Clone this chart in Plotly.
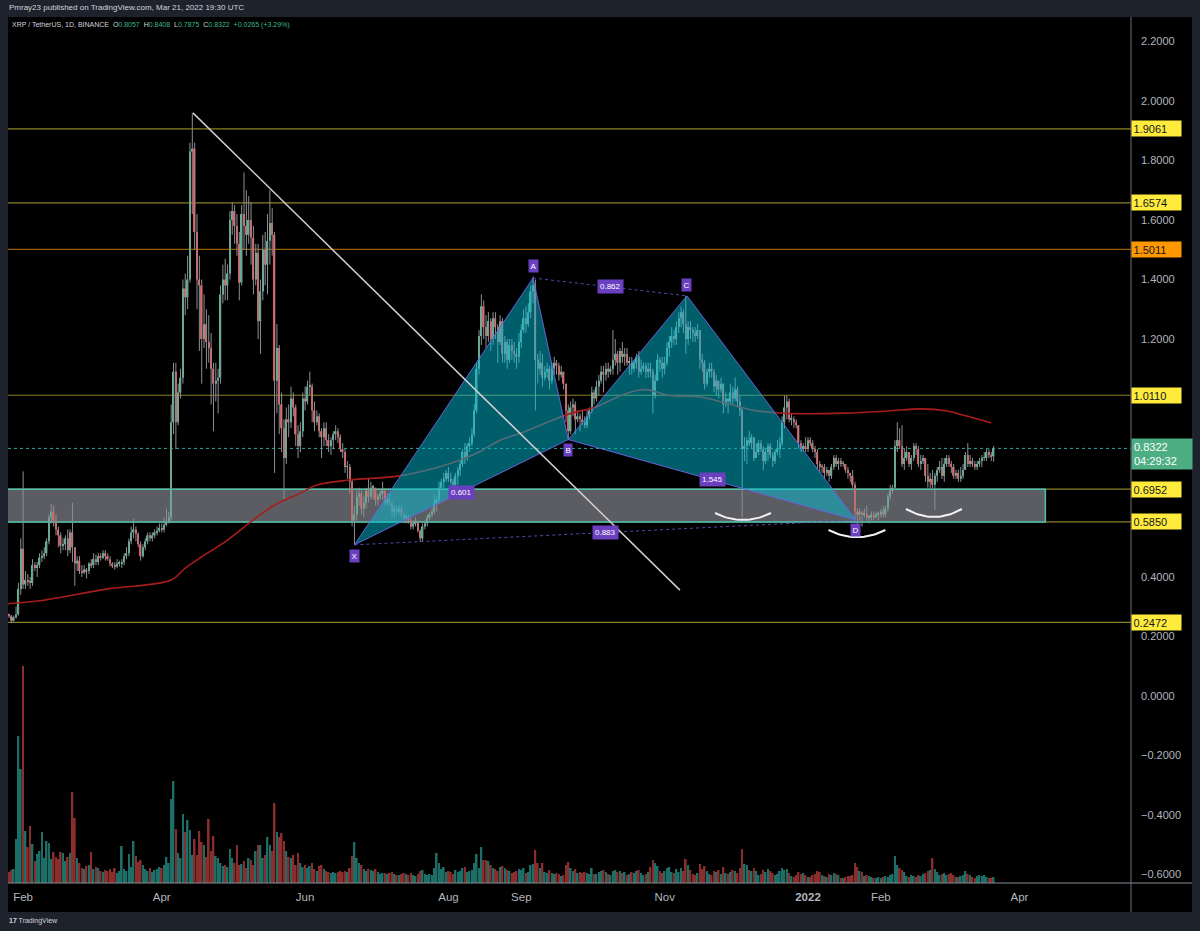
import plotly.graph_objects as go
import pandas as pd
import numpy as np

# ---------------- DATA ----------------
START = "2021-01-25"
FIRST_OPEN = 0.270

CLOSE = [
    0.272,0.270,0.253,0.265,0.275,0.360,0.495,
    0.375,0.390,0.385,0.380,0.440,0.430,0.440,
    0.465,0.470,0.480,0.520,0.600,0.620,0.590,
    0.560,0.540,0.505,0.510,0.530,0.490,0.550,
    0.500,0.445,0.455,0.420,0.415,0.425,0.420,
    0.445,0.440,0.460,0.450,0.470,0.465,0.480,
    0.470,0.460,0.445,0.440,0.435,0.445,0.445,
    0.450,0.470,0.480,0.520,0.550,0.560,0.545,
    0.510,0.470,0.500,0.520,0.540,0.530,0.540,
    0.550,0.555,0.565,0.560,0.575,0.585,0.600,
    0.920,1.090,0.920,1.020,1.070,1.370,1.340,
    1.400,1.830,1.840,1.560,1.400,1.380,1.200,
    1.250,1.190,1.170,1.100,1.050,1.060,1.070,
    1.350,1.400,1.380,1.420,1.600,1.630,1.580,
    1.520,1.390,1.620,1.580,1.550,1.600,1.540,
    1.400,1.490,1.260,1.360,1.500,1.450,1.530,
    1.590,1.550,1.060,1.170,0.980,0.900,0.800,
    0.930,0.920,1.000,0.970,0.880,0.840,0.890,
    1.000,0.990,1.040,1.040,0.960,0.920,0.940,
    0.890,0.870,0.900,0.860,0.840,0.860,0.880,
    0.890,0.870,0.830,0.820,0.770,0.770,0.720,
    0.590,0.610,0.670,0.680,0.630,0.650,0.690,
    0.670,0.700,0.700,0.660,0.670,0.680,0.690,
    0.650,0.660,0.650,0.620,0.630,0.620,0.630,
    0.610,0.600,0.600,0.590,0.570,0.580,0.585,
    0.555,0.530,0.570,0.580,0.600,0.610,0.620,
    0.650,0.660,0.700,0.720,0.730,0.750,0.730,
    0.720,0.710,0.740,0.760,0.780,0.820,0.800,
    0.840,0.850,0.880,0.960,1.100,1.210,1.310,
    1.240,1.210,1.260,1.200,1.270,1.240,1.190,
    1.260,1.150,1.190,1.130,1.180,1.160,1.150,
    1.140,1.190,1.230,1.270,1.250,1.290,1.360,
    1.380,1.130,1.100,1.120,1.070,1.090,1.100,
    1.060,1.100,1.120,1.110,1.080,1.090,1.050,
    0.960,0.890,0.970,0.980,0.930,0.940,0.930,
    0.920,0.910,0.940,0.960,1.020,1.000,1.040,
    1.060,1.090,1.080,1.100,1.090,1.100,1.130,
    1.150,1.120,1.160,1.140,1.150,1.120,1.120,
    1.100,1.120,1.140,1.090,1.100,1.110,1.090,
    1.100,1.090,1.010,1.060,1.130,1.120,1.100,
    1.120,1.170,1.190,1.210,1.200,1.240,1.270,
    1.290,1.250,1.200,1.240,1.230,1.220,1.210,
    1.230,1.130,1.120,1.050,1.090,1.100,1.090,
    1.040,1.060,1.030,1.050,0.980,1.000,0.990,
    1.020,1.000,1.030,0.990,0.960,0.830,0.840,
    0.860,0.850,0.870,0.800,0.820,0.850,0.830,
    0.790,0.820,0.840,0.810,0.790,0.820,0.830,
    0.850,0.920,0.970,0.990,0.930,0.930,0.920,
    0.910,0.850,0.830,0.840,0.830,0.860,0.850,
    0.830,0.820,0.780,0.770,0.770,0.750,0.760,
    0.740,0.770,0.800,0.780,0.790,0.780,0.780,
    0.760,0.750,0.740,0.710,0.620,0.610,0.620,
    0.610,0.610,0.600,0.600,0.610,0.600,0.610,
    0.610,0.620,0.610,0.630,0.670,0.690,0.700,
    0.840,0.860,0.840,0.780,0.800,0.820,0.780,
    0.800,0.840,0.830,0.780,0.790,0.800,0.740,
    0.720,0.730,0.710,0.740,0.760,0.770,0.740,
    0.780,0.800,0.780,0.770,0.740,0.750,0.730,
    0.740,0.760,0.810,0.780,0.790,0.780,0.770,
    0.780,0.790,0.800,0.800,0.820,0.810,0.8057,
    0.8322,
]

HIGH = [
    0.285,0.277,0.272,0.270,0.300,0.380,0.530,
    0.755,0.420,0.410,0.400,0.460,0.450,0.450,
    0.480,0.490,0.500,0.530,0.610,0.645,0.640,
    0.610,0.570,0.550,0.530,0.540,0.560,0.560,
    0.650,0.500,0.470,0.470,0.440,0.440,0.430,
    0.450,0.460,0.480,0.475,0.480,0.480,0.490,
    0.490,0.480,0.470,0.450,0.450,0.460,0.455,
    0.460,0.480,0.500,0.530,0.570,0.595,0.570,
    0.550,0.520,0.510,0.530,0.550,0.550,0.550,
    0.560,0.570,0.580,0.580,0.600,0.630,0.620,
    0.980,1.120,1.120,1.050,1.100,1.400,1.420,
    1.480,1.860,1.960,1.860,1.620,1.480,1.400,
    1.350,1.300,1.280,1.220,1.120,1.120,1.100,
    1.380,1.450,1.470,1.450,1.630,1.660,1.650,
    1.620,1.560,1.650,1.760,1.700,1.680,1.660,
    1.580,1.520,1.520,1.400,1.550,1.560,1.620,
    1.700,1.640,1.560,1.250,1.180,1.020,0.930,
    0.970,0.980,1.040,1.020,0.980,0.910,0.920,
    1.020,1.040,1.060,1.090,1.050,0.990,0.960,
    0.950,0.900,0.920,0.920,0.880,0.870,0.890,
    0.910,0.900,0.880,0.850,0.830,0.790,0.780,
    0.730,0.640,0.690,0.700,0.690,0.670,0.700,
    0.730,0.720,0.710,0.700,0.680,0.690,0.720,
    0.690,0.680,0.680,0.650,0.640,0.640,0.640,
    0.640,0.620,0.610,0.610,0.600,0.590,0.600,
    0.590,0.560,0.580,0.590,0.610,0.620,0.630,
    0.680,0.670,0.720,0.730,0.750,0.760,0.770,
    0.750,0.730,0.750,0.770,0.790,0.830,0.850,
    0.850,0.870,0.900,0.980,1.120,1.230,1.350,
    1.330,1.280,1.290,1.270,1.290,1.290,1.250,
    1.280,1.270,1.210,1.200,1.200,1.200,1.190,
    1.170,1.220,1.250,1.300,1.310,1.320,1.380,
    1.410,1.400,1.150,1.160,1.150,1.110,1.120,
    1.110,1.120,1.140,1.130,1.120,1.110,1.090,
    1.050,0.980,0.990,1.000,0.990,0.960,0.950,
    0.960,0.940,0.960,0.970,1.040,1.030,1.060,
    1.080,1.110,1.110,1.120,1.120,1.110,1.230,
    1.200,1.160,1.170,1.190,1.170,1.170,1.140,
    1.140,1.130,1.150,1.160,1.130,1.120,1.120,
    1.120,1.120,1.100,1.080,1.150,1.140,1.140,
    1.140,1.190,1.210,1.240,1.230,1.260,1.290,
    1.310,1.300,1.345,1.260,1.260,1.240,1.240,
    1.250,1.230,1.150,1.130,1.100,1.120,1.120,
    1.100,1.080,1.060,1.070,1.050,1.020,1.000,
    1.050,1.040,1.070,1.040,1.010,0.970,0.870,
    0.870,0.890,0.880,0.870,0.850,0.860,0.860,
    0.840,0.830,0.850,0.850,0.820,0.830,0.860,
    0.870,0.940,1.010,1.010,1.000,0.950,0.940,
    0.930,0.910,0.860,0.850,0.870,0.870,0.870,
    0.860,0.840,0.830,0.790,0.780,0.780,0.770,
    0.760,0.780,0.810,0.810,0.800,0.800,0.790,
    0.780,0.770,0.750,0.760,0.720,0.630,0.630,
    0.620,0.630,0.640,0.610,0.620,0.620,0.620,
    0.620,0.630,0.640,0.640,0.680,0.710,0.710,
    0.860,0.920,0.900,0.910,0.830,0.840,0.820,
    0.810,0.850,0.850,0.840,0.810,0.810,0.800,
    0.780,0.750,0.760,0.750,0.770,0.790,0.800,
    0.800,0.810,0.810,0.790,0.780,0.760,0.760,
    0.770,0.780,0.820,0.850,0.810,0.800,0.790,
    0.790,0.800,0.810,0.820,0.830,0.830,0.820,
    0.8408,
]

LOW = [
    0.265,0.262,0.245,0.250,0.260,0.270,0.340,
    0.360,0.360,0.370,0.360,0.370,0.420,0.400,
    0.430,0.450,0.460,0.470,0.510,0.580,0.570,
    0.540,0.500,0.480,0.490,0.490,0.470,0.480,
    0.450,0.370,0.420,0.410,0.400,0.410,0.395,
    0.410,0.430,0.430,0.440,0.440,0.455,0.460,
    0.455,0.455,0.435,0.430,0.425,0.430,0.435,
    0.430,0.440,0.460,0.470,0.510,0.530,0.520,
    0.500,0.455,0.465,0.490,0.510,0.520,0.520,
    0.530,0.540,0.550,0.550,0.550,0.570,0.580,
    0.590,0.880,0.830,0.910,1.000,1.050,1.280,
    1.300,1.390,1.620,1.500,1.300,1.160,1.050,
    1.170,1.100,1.120,0.980,0.890,0.990,0.950,
    1.050,1.320,1.330,1.330,1.400,1.550,1.520,
    1.480,1.330,1.380,1.500,1.480,1.520,1.450,
    1.350,1.380,1.200,1.150,1.330,1.380,1.350,
    1.450,1.480,0.750,0.950,0.880,0.820,0.660,
    0.780,0.870,0.900,0.940,0.840,0.800,0.820,
    0.870,0.960,0.980,1.010,0.920,0.890,0.910,
    0.870,0.800,0.840,0.840,0.820,0.810,0.830,
    0.860,0.850,0.820,0.800,0.750,0.730,0.680,
    0.570,0.508,0.590,0.640,0.610,0.600,0.630,
    0.650,0.660,0.660,0.640,0.640,0.660,0.660,
    0.640,0.640,0.640,0.600,0.600,0.610,0.610,
    0.600,0.590,0.580,0.580,0.560,0.560,0.570,
    0.550,0.518,0.520,0.560,0.570,0.590,0.600,
    0.610,0.620,0.650,0.690,0.700,0.720,0.720,
    0.710,0.700,0.700,0.710,0.740,0.770,0.780,
    0.790,0.820,0.840,0.870,0.950,1.080,1.180,
    1.200,1.170,1.190,1.160,1.180,1.200,1.120,
    1.180,1.120,1.120,1.100,1.120,1.130,1.120,
    1.100,1.120,1.170,1.220,1.220,1.240,1.270,
    1.320,0.960,1.050,1.080,1.040,1.060,1.070,
    1.030,1.050,1.080,1.080,1.060,1.070,1.030,
    0.920,0.860,0.880,0.940,0.880,0.920,0.890,
    0.910,0.900,0.900,0.930,0.950,0.980,0.990,
    1.010,1.050,1.020,1.060,1.070,1.080,1.080,
    1.110,1.080,1.090,1.120,1.110,1.110,1.080,
    1.080,1.090,1.100,1.070,1.080,1.090,1.070,
    1.070,1.070,0.950,1.000,1.060,1.090,1.070,
    1.080,1.110,1.140,1.170,1.180,1.180,1.220,
    1.240,1.220,1.150,1.180,1.200,1.190,1.190,
    1.200,1.100,1.090,1.030,1.040,1.070,1.070,
    1.020,1.010,1.000,1.020,0.950,0.970,0.950,
    0.980,0.980,0.990,0.970,0.940,0.600,0.790,
    0.780,0.840,0.830,0.790,0.800,0.810,0.820,
    0.760,0.780,0.790,0.800,0.770,0.780,0.810,
    0.800,0.840,0.900,0.930,0.920,0.910,0.900,
    0.900,0.830,0.820,0.820,0.820,0.820,0.840,
    0.820,0.800,0.760,0.750,0.750,0.730,0.740,
    0.720,0.730,0.760,0.770,0.760,0.770,0.770,
    0.750,0.730,0.720,0.700,0.590,0.560,0.590,
    0.570,0.600,0.590,0.580,0.590,0.590,0.600,
    0.590,0.600,0.600,0.600,0.620,0.660,0.680,
    0.700,0.820,0.830,0.770,0.760,0.790,0.770,
    0.760,0.790,0.810,0.770,0.760,0.780,0.720,
    0.700,0.700,0.700,0.625,0.720,0.750,0.730,
    0.720,0.770,0.770,0.750,0.730,0.730,0.720,
    0.720,0.730,0.760,0.770,0.770,0.770,0.760,
    0.760,0.770,0.770,0.790,0.790,0.800,0.790,
    0.7875,
]

# daily volume, millions of XRP
VOLUME = [
    120,110,130,140,440,1470,1140,
    2170,520,360,570,390,220,290,
    320,510,250,420,400,240,310,
    260,240,310,300,220,260,300,
    910,650,250,200,150,140,170,
    180,310,140,160,150,120,110,
    130,120,140,110,150,100,120,
    370,140,120,290,160,420,270,
    210,230,180,140,120,150,110,
    130,140,160,150,180,260,200,
    840,1020,540,300,250,690,510,
    630,530,280,440,280,520,410,
    380,260,640,320,470,270,250,
    200,170,180,160,340,250,200,
    380,180,190,220,150,250,230,
    180,320,380,380,250,280,460,
    380,320,800,510,460,500,420,
    320,260,250,280,180,300,200,
    160,180,150,170,200,140,120,
    170,180,140,120,110,100,110,
    100,110,120,110,120,110,150,
    270,410,250,200,180,140,120,
    140,130,120,140,110,90,100,
    100,90,100,110,90,80,80,
    90,100,90,80,100,80,70,
    90,120,130,90,80,90,80,
    150,300,200,140,160,110,120,
    110,90,130,110,120,150,160,
    110,120,130,200,290,150,360,
    230,230,220,180,150,140,120,
    160,170,150,130,120,100,110,
    120,140,130,150,100,110,180,
    190,330,200,150,200,110,100,
    130,100,90,100,90,70,80,
    180,210,150,120,140,100,110,
    100,110,100,90,150,90,90,
    110,120,130,110,90,80,120,
    130,110,120,100,110,80,90,
    110,100,120,130,100,80,90,
    110,160,230,200,170,120,100,
    120,150,160,110,100,140,110,
    150,120,240,180,130,90,80,
    100,190,140,170,120,90,80,
    120,110,130,90,160,100,90,
    110,130,120,100,150,340,190,
    180,130,120,150,120,80,90,
    130,110,140,120,100,80,90,
    120,150,130,140,100,70,60,
    80,110,90,100,80,60,60,
    80,90,120,110,80,70,60,
    90,80,100,90,80,50,50,
    60,70,70,80,200,160,120,
    110,70,80,70,60,50,50,
    60,50,60,70,60,80,90,
    270,180,150,130,110,70,60,
    80,70,60,80,70,90,100,
    120,130,250,140,110,80,90,
    100,80,90,100,80,60,60,
    70,80,120,90,80,60,50,
    70,80,70,80,60,50,50,
    60,
]

# moving average
MA_DATES = ["2021-01-25","2021-02-08","2021-03-09","2021-04-05","2021-04-11","2021-04-18",
            "2021-04-29","2021-05-09","2021-05-19","2021-05-30","2021-06-06","2021-06-20",
            "2021-07-11","2021-07-28","2021-08-06","2021-08-14","2021-08-23","2021-09-01",
            "2021-09-09","2021-09-22","2021-10-02","2021-10-16","2021-10-24","2021-11-03",
            "2021-11-16","2021-11-27","2021-12-09","2021-12-23","2022-01-17","2022-02-04",
            "2022-02-18","2022-03-01","2022-03-10","2022-03-20"]
MA_VALUES = [0.310,0.320,0.360,0.390,0.430,0.468,
             0.524,0.586,0.642,0.682,0.709,0.726,
             0.740,0.770,0.793,0.820,0.860,0.884,
             0.910,0.950,0.970,1.018,1.030,1.010,
             1.005,0.985,0.960,0.950,0.951,0.958,
             0.965,0.958,0.940,0.918]

LEVELS = [1.9061, 1.6574, 1.5011, 1.0110, 0.6952, 0.5850, 0.2472]
ORANGE_LEVEL = 1.5011
ZONE_LOW, ZONE_HIGH = 0.5850, 0.6952
ZONE_END = "2022-04-12"
LAST_PRICE = 0.8322
LAST_TIMER = "04:29:32"

PATTERN_NAMES = ["X", "A", "B", "C", "D"]
PATTERN_DATES = ["2021-06-22", "2021-09-06", "2021-09-21", "2021-11-10 12:00", "2022-01-21 10:00"]
PATTERN_PRICES = [0.508, 1.405, 0.862, 1.345, 0.591]
RATIO_LABELS = {("X", "B"): "0.601", ("B", "D"): "1.545", ("A", "C"): "0.862", ("X", "D"): "0.883"}

TREND_DATES = ["2021-04-14 06:00", "2021-11-07 12:00"]
TREND_PRICES = [1.96, 0.356]

# smile arcs: centre date, half width (days), rim price, bottom price
ARCS = [("2021-12-04 08:00", 11.9, 0.615, 0.5916),
        ("2022-01-21 20:00", 12.1, 0.558, 0.534),
        ("2022-02-23 14:00", 11.9, 0.6286, 0.6017)]

XTICK_VALS = ["2021-02-01", "2021-04-01", "2021-06-01", "2021-08-01", "2021-09-01",
              "2021-11-01", "2022-01-01", "2022-02-01", "2022-04-01"]
XTICK_TEXT = ["Feb", "Apr", "Jun", "Aug", "Sep", "Nov", "<b>2022</b>", "Feb", "Apr"]
# price ticks; 0.6, 0.8 and 1.0 sit under the price-axis labels in the reference
YTICK_VALS = [-0.6, -0.4, -0.2, 0.0, 0.2, 0.4, 1.2, 1.4, 1.6, 1.8, 2.0, 2.2]

# ---------------- BUILD ----------------
n = len(CLOSE)
assert len(HIGH) == n and len(LOW) == n and len(VOLUME) == n
dates = pd.date_range(START, periods=n, freq="D")
OPEN = [FIRST_OPEN] + CLOSE[:-1]

UP = "#4bbf95"
DOWN = "#ef5050"
WICK = "#8d8f96"
BG = "#1e222d"
FONT = "Liberation Sans"

# pixel frame of the plot area
PL, PR, PT, PB = 8, 1131, 17, 883
def px_x(p): return (p - PL) / (PR - PL)
def px_y(p): return (PB - p) / (PB - PT)

X_RANGE = ["2021-01-25 13:40", "2022-05-18 10:50"]
Y_RANGE = [-0.6286, 2.2824]

fig = go.Figure()

# volume
vol_colors = ["#1c6e66" if c >= o else "#8a2d2d" for o, c in zip(OPEN, CLOSE)]
fig.add_trace(go.Bar(x=dates, y=VOLUME, yaxis="y2", marker_color=vol_colors,
                     marker_line_width=0, width=0.72 * 86400000, hoverinfo="skip"))

# wicks
wx, wy = [], []
for d, o, h, l, c in zip(dates, OPEN, HIGH, LOW, CLOSE):
    wx += [d, d, None]
    wy += [min(l, o, c), max(h, o, c), None]
fig.add_trace(go.Scatter(x=wx, y=wy, mode="lines", line=dict(color=WICK, width=1),
                         hoverinfo="skip"))

# bodies
for up in (True, False):
    bx, bb, bh = [], [], []
    for d, o, c in zip(dates, OPEN, CLOSE):
        if (c >= o) == up:
            bx.append(d)
            bb.append(min(o, c))
            bh.append(max(abs(c - o), 0.003))
    fig.add_trace(go.Bar(x=bx, y=bh, base=bb, marker_color=UP if up else DOWN,
                         marker_line_width=0, width=0.62 * 86400000, hoverinfo="skip"))

# moving average
fig.add_trace(go.Scatter(x=pd.to_datetime(MA_DATES), y=MA_VALUES, mode="lines",
                         line=dict(color="#a81c1c", width=1.6, shape="spline", smoothing=1.0),
                         hoverinfo="skip"))

# harmonic pattern
P = {k: (pd.Timestamp(d), p) for k, d, p in zip(PATTERN_NAMES, PATTERN_DATES, PATTERN_PRICES)}
for tri in (("X", "A", "B"), ("B", "C", "D")):
    xs = [P[k][0] for k in tri] + [P[tri[0]][0]]
    ys = [P[k][1] for k in tri] + [P[tri[0]][1]]
    fig.add_trace(go.Scatter(x=xs, y=ys, mode="lines", fill="toself",
                             fillcolor="rgba(0,188,212,0.5)",
                             line=dict(color="rgba(104,100,225,0.95)", width=1),
                             hoverinfo="skip"))
for a, b in (("A", "C"), ("X", "D")):
    fig.add_trace(go.Scatter(x=[P[a][0], P[b][0]], y=[P[a][1], P[b][1]], mode="lines",
                             line=dict(color="rgba(95,85,200,0.85)", width=1, dash="dot"),
                             hoverinfo="skip"))

# trend line
fig.add_trace(go.Scatter(x=pd.to_datetime(TREND_DATES), y=TREND_PRICES, mode="lines",
                         line=dict(color="#cfcfcf", width=1.5), hoverinfo="skip"))

# smile arcs
for cdate, hw, rim, bottom in ARCS:
    t = np.linspace(-1, 1, 25)
    c0 = pd.Timestamp(cdate)
    ax = [c0 + pd.Timedelta(days=float(v * hw)) for v in t]
    ay = bottom + (rim - bottom) * t ** 2
    fig.add_trace(go.Scatter(x=ax, y=ay, mode="lines", line=dict(color="#f2f2f2", width=2),
                             hoverinfo="skip"))

# ---------------- SHAPES ----------------
shapes = []
shapes.append(dict(type="rect", xref="paper", yref="paper", x0=0, x1=px_x(1192),
                   y0=px_y(912), y1=1, fillcolor="#000000", line_width=0, layer="below"))
for lv in LEVELS:
    col = "rgba(255,152,0,0.6)" if lv == ORANGE_LEVEL else "rgba(230,215,60,0.6)"
    shapes.append(dict(type="line", xref="x", yref="y", x0=X_RANGE[0], x1=X_RANGE[1],
                       y0=lv, y1=lv, line=dict(color=col, width=1.2), layer="below"))
shapes.append(dict(type="rect", xref="x", yref="y", x0="2020-12-01", x1=ZONE_END,
                   y0=ZONE_LOW, y1=ZONE_HIGH, fillcolor="#5c5d62",
                   line=dict(color="#4dc2b4", width=1.5), layer="below"))
shapes.append(dict(type="line", xref="x", yref="y", x0=X_RANGE[0], x1=X_RANGE[1],
                   y0=LAST_PRICE, y1=LAST_PRICE,
                   line=dict(color="#26a69a", width=1, dash="dot"), layer="below"))
shapes.append(dict(type="line", xref="paper", yref="paper", x0=1, x1=1, y0=px_y(912), y1=1,
                   line=dict(color="#6c6f79", width=1), layer="above"))
shapes.append(dict(type="line", xref="paper", yref="paper", x0=0, x1=px_x(1192), y0=0, y1=0,
                   line=dict(color="#8a8d96", width=1), layer="above"))

# ---------------- ANNOTATIONS ----------------
ann = []
ann.append(dict(xref="paper", yref="paper", x=px_x(7), y=px_y(8), xanchor="left",
                yanchor="middle", showarrow=False,
                text="Pmray23 published on TradingView.com, Mar 21, 2022 19:30 UTC",
                font=dict(size=8, color="#d1d4dc", family=FONT)))
g = "#3fb68b"
w = "#d1d4dc"
legend_text = (f"<span style='color:{w}'>XRP / TetherUS, 1D, BINANCE&nbsp;&nbsp;O</span>"
               f"<span style='color:{g}'>0.8057</span>"
               f"<span style='color:{w}'>&nbsp;&nbsp;H</span><span style='color:{g}'>0.8408</span>"
               f"<span style='color:{w}'>&nbsp;&nbsp;L</span><span style='color:{g}'>0.7875</span>"
               f"<span style='color:{w}'>&nbsp;&nbsp;C</span><span style='color:{g}'>0.8322</span>"
               f"<span style='color:{g}'>&nbsp;&nbsp;+0.0265 (+3.29%)</span>")
ann.append(dict(xref="paper", yref="paper", x=px_x(10), y=px_y(25), xanchor="left",
                yanchor="middle", showarrow=False, text=legend_text,
                font=dict(size=7, family=FONT)))
ann.append(dict(xref="paper", yref="paper", x=px_x(7), y=px_y(921), xanchor="left",
                yanchor="middle", showarrow=False,
                text="<b>17</b> TradingView", font=dict(size=7, color="#d1d4dc", family=FONT)))

for lv in LEVELS:
    bg = "#ff9800" if lv == ORANGE_LEVEL else "#ffeb3b"
    ann.append(dict(xref="paper", yref="y", x=1, y=lv, xanchor="left", yanchor="middle",
                    showarrow=False, text=f"{lv:.4f}", bgcolor=bg, borderpad=1.5,
                    width=46, align="left",
                    font=dict(size=11, color="#131722", family=FONT)))
ann.append(dict(xref="paper", yref="y", x=1, y=LAST_PRICE, xanchor="left", yanchor="middle",
                yshift=-6, showarrow=False, text=f"{LAST_PRICE:.4f}<br>{LAST_TIMER}",
                bgcolor="#4cae82", borderpad=2, width=56, align="left",
                font=dict(size=11, color="#ffffff", family=FONT)))

shift = {"X": -11, "A": 12, "B": -10, "C": 11, "D": -10}
for k in PATTERN_NAMES:
    ann.append(dict(x=P[k][0], y=P[k][1], xref="x", yref="y", text=k, showarrow=False,
                    yshift=shift[k], bgcolor="#6a3fc0", borderpad=1.5,
                    font=dict(size=8, color="#ffffff", family=FONT)))
for (a, b), txt in RATIO_LABELS.items():
    mx = P[a][0] + (P[b][0] - P[a][0]) / 2
    my = (P[a][1] + P[b][1]) / 2
    ann.append(dict(x=mx, y=my, xref="x", yref="y", text=txt, showarrow=False,
                    bgcolor="#6a3fc0", borderpad=2,
                    font=dict(size=8, color="#ffffff", family=FONT)))

yticktext = [f"{v:.4f}".replace("-", "\u2212") if v < 0 else f"{v:.4f}" for v in YTICK_VALS]

fig.update_layout(
    width=1200, height=931,
    margin=dict(l=PL, r=1200 - PR, t=PT, b=931 - PB),
    paper_bgcolor=BG, plot_bgcolor="#000000",
    showlegend=False, hovermode=False, barmode="overlay",
    font=dict(family=FONT, color="#b2b5be"),
    xaxis=dict(type="date", range=X_RANGE, tickvals=XTICK_VALS, ticktext=XTICK_TEXT,
               showgrid=False, zeroline=False, showline=False, ticks="",
               tickfont=dict(size=11.5, color="#b2b5be", family=FONT),
               ticklabelstandoff=5),
    yaxis=dict(range=Y_RANGE, side="right", tickvals=YTICK_VALS, ticktext=yticktext,
               showgrid=False, zeroline=False, showline=False, ticks="",
               tickfont=dict(size=11, color="#b2b5be", family=FONT),
               ticklabelstandoff=9),
    yaxis2=dict(range=[0, 8660], overlaying="y", visible=False, fixedrange=True),
    shapes=shapes, annotations=ann,
)

fig.write_html("out.html")
